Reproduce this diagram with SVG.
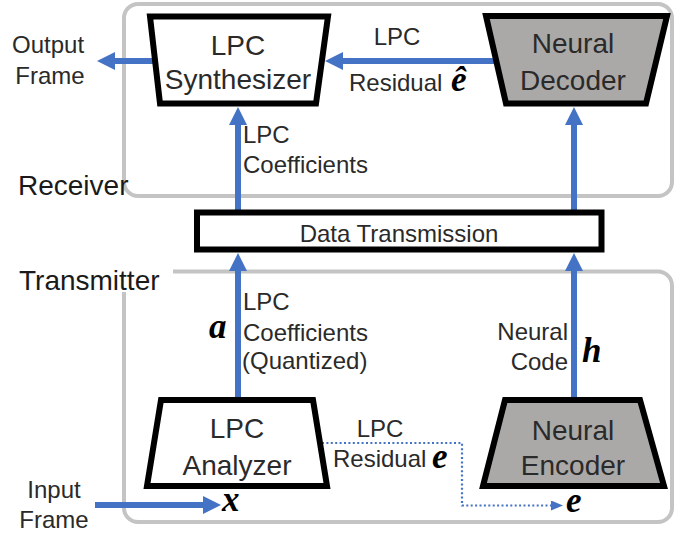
<svg xmlns="http://www.w3.org/2000/svg" width="674" height="533" viewBox="0 0 674 533">
<defs>
<style>
.panel{fill:none;stroke:#c4c4c4;stroke-width:4}
.node{stroke:#000;stroke-width:6;stroke-linejoin:miter}
.white{fill:#fff}
.gray{fill:#aba8a8}
.nl{font-family:"Liberation Sans",Arial,sans-serif;font-size:28px;fill:#2a2a2a;text-anchor:middle}
.el{font-family:"Liberation Sans",Arial,sans-serif;font-size:24px;fill:#2a2a2a}
.pl{font-family:"Liberation Sans",Arial,sans-serif;font-size:28px;fill:#1a1a1a}
.m{font-family:"Liberation Serif","Times New Roman",serif;font-weight:bold;font-style:italic;font-size:35px;fill:#000}
.arr{fill:none;stroke:#4472c4;stroke-width:6}
.dot{fill:none;stroke:#4472c4;stroke-width:2.2;stroke-dasharray:2 2.4}
</style>
<marker id="ah" viewBox="0 0 18 18" markerWidth="18" markerHeight="18" markerUnits="userSpaceOnUse" refX="8" refY="9" orient="auto">
<path d="M0,0 L18,9 L0,18 z" fill="#4472c4"/>
</marker>
<marker id="ahs" viewBox="0 0 12 10" markerWidth="12" markerHeight="10" markerUnits="userSpaceOnUse" refX="8" refY="5" orient="auto">
<path d="M0,0 L12,5 L0,10 z" fill="#4472c4"/>
</marker>
</defs>
<rect width="674" height="533" fill="#fff"/>

<g id="receiver-panel">
<rect class="panel" x="124" y="4" width="548" height="192" rx="14"/>
<text class="pl" x="18" y="195">Receiver</text>
</g>
<g id="transmitter-panel">
<path class="panel" d="M173,271.5 H658 A14,14 0 0 1 672,285.5 V508 A14,14 0 0 1 658,522 H138 A14,14 0 0 1 124,508 V292"/>
<text class="pl" x="19" y="290">Transmitter</text>
</g>

<g id="connectors">
<line class="arr" x1="153" y1="61" x2="107" y2="61" marker-end="url(#ah)"/>
<line class="arr" x1="494" y1="61" x2="335" y2="61" marker-end="url(#ah)"/>
<line class="arr" x1="238" y1="212" x2="238" y2="117" marker-end="url(#ah)"/>
<line class="arr" x1="574" y1="212" x2="574" y2="117" marker-end="url(#ah)"/>
<line class="arr" x1="238" y1="397" x2="238" y2="263" marker-end="url(#ah)"/>
<line class="arr" x1="574" y1="397" x2="574" y2="263" marker-end="url(#ah)"/>
<line class="arr" x1="95" y1="505" x2="211" y2="505" marker-end="url(#ah)"/>
<path class="dot" d="M322,443 H462 V505.5 H559" marker-end="url(#ahs)"/>
<text class="el" x="12" y="53">Output</text>
<text class="el" x="50" y="84" text-anchor="middle">Frame</text>
<text class="el" x="397" y="45" text-anchor="middle">LPC</text>
<text class="el" x="349" y="91">Residual</text>
<text class="m" x="451" y="91">ê</text>
<text class="el" x="243" y="143">LPC</text>
<text class="el" x="243" y="173">Coefficients</text>
<text class="el" x="243" y="310">LPC</text>
<text class="el" x="243" y="341">Coefficients</text>
<text class="el" x="242" y="369">(Quantized)</text>
<text class="m" x="209" y="338">a</text>
<text class="el" x="568" y="340" text-anchor="end">Neural</text>
<text class="el" x="568" y="370" text-anchor="end">Code</text>
<text class="m" x="582" y="362">h</text>
<text class="el" x="380" y="437" text-anchor="middle">LPC</text>
<text class="el" x="333" y="467">Residual</text>
<text class="m" x="432" y="468">e</text>
<text class="el" x="54" y="498" text-anchor="middle">Input</text>
<text class="el" x="54" y="528" text-anchor="middle">Frame</text>
<text class="m" x="222" y="511">x</text>
<text class="m" x="566" y="512">e</text>
</g>

<g id="lpc-synthesizer">
<polygon class="node white" points="150,16.5 328,16.5 316,103.5 160,103.5"/>
<text class="nl" x="238" y="55">LPC</text>
<text class="nl" x="238" y="89">Synthesizer</text>
</g>
<g id="neural-decoder">
<polygon class="node gray" points="486,16 667,16 646,103.5 506,103.5"/>
<text class="nl" x="573" y="53">Neural</text>
<text class="nl" x="573" y="90">Decoder</text>
</g>
<g id="data-transmission">
<rect class="node white" x="197" y="212.5" width="404.5" height="37"/>
<text class="el" x="399" y="242" text-anchor="middle">Data Transmission</text>
</g>
<g id="lpc-analyzer">
<polygon class="node white" points="161,400 313,400 327,486 147,486"/>
<text class="nl" x="237" y="438">LPC</text>
<text class="nl" x="237" y="475">Analyzer</text>
</g>
<g id="neural-encoder">
<polygon class="node gray" points="505,400 640,400 664,486 483,486"/>
<text class="nl" x="573" y="440">Neural</text>
<text class="nl" x="573" y="475">Encoder</text>
</g>
</svg>
